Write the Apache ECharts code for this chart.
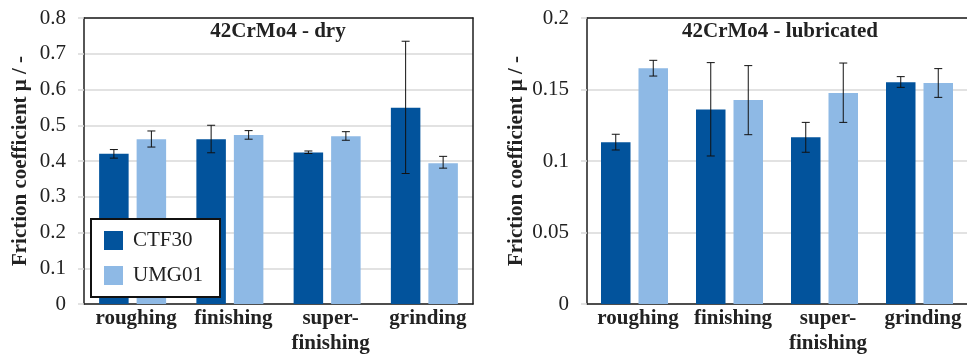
<!DOCTYPE html>
<html>
<head>
<meta charset="utf-8">
<script src="https://cdn.jsdelivr.net/npm/echarts@6/dist/echarts.min.js"></script>
<style>
html,body{margin:0;padding:0;background:#fff;}
#c{width:967px;height:356px;}
</style>
</head>
<body>
<div id="c"></div>
<script>
// ---- data ----
const categories = ['roughing', 'finishing', 'super-\nfinishing', 'grinding'];
const seriesNames = ['CTF30', 'UMG01'];

// dry
const dryCTF30 = [0.420, 0.461, 0.424, 0.549];
const dryCTF30Low = [0.408, 0.423, 0.421, 0.365];
const dryCTF30High = [0.432, 0.500, 0.428, 0.735];
const dryUMG01 = [0.461, 0.473, 0.469, 0.394];
const dryUMG01Low = [0.439, 0.461, 0.458, 0.380];
const dryUMG01High = [0.484, 0.485, 0.482, 0.413];

// lubricated
const lubCTF30 = [0.1131, 0.1361, 0.1166, 0.1550];
const lubCTF30Low = [0.1077, 0.1035, 0.1061, 0.1515];
const lubCTF30High = [0.1187, 0.1688, 0.1270, 0.1590];
const lubUMG01 = [0.1648, 0.1427, 0.1476, 0.1545];
const lubUMG01Low = [0.1594, 0.1184, 0.1270, 0.1445];
const lubUMG01High = [0.1704, 0.1667, 0.1685, 0.1646];

const yTicksDry = { min: 0, max: 0.8, interval: 0.1 };
const yTicksLub = { min: 0, max: 0.2, interval: 0.05 };

const titles = ['42CrMo4 - dry', '42CrMo4 - lubricated'];
const yName = 'Friction coefficient \u03bc / -';

// ---- styles ----
const COL_DARK = '#02539C';
const COL_LIGHT = '#8EB9E5';
const FONT = '"Liberation Serif", "Times New Roman", serif';
const BAR_W = 29.5;
const GAP_PX = 8;
const FRAME = '#1e1e1e';

const chart = echarts.init(document.getElementById('c'), null, { renderer: 'canvas' });

function errData(lo, hi) {
  return lo.map((v, i) => [i, v, hi[i]]);
}
function errSeries(name, lo, hi, gi, side) {
  return {
    type: 'custom', name: name, xAxisIndex: gi * 2, yAxisIndex: gi * 2, z: 5,
    data: errData(lo, hi),
    renderItem: function (params, api) {
      const i = api.value(0);
      const pLo = api.coord([i, api.value(1)]);
      const pHi = api.coord([i, api.value(2)]);
      const x = pLo[0] + side * (BAR_W + GAP_PX) / 2;
      const cap = 4;
      const st = { stroke: '#111', lineWidth: 1 };
      return {
        type: 'group',
        children: [
          { type: 'line', shape: { x1: x, y1: pLo[1], x2: x, y2: pHi[1] }, style: st },
          { type: 'line', shape: { x1: x - cap, y1: pLo[1], x2: x + cap, y2: pLo[1] }, style: st },
          { type: 'line', shape: { x1: x - cap, y1: pHi[1], x2: x + cap, y2: pHi[1] }, style: st }
        ]
      };
    }
  };
}
function barSeries(name, data, gi, color) {
  return {
    type: 'bar', name: name, xAxisIndex: gi * 2, yAxisIndex: gi * 2,
    data: data, barWidth: BAR_W, barGap: (GAP_PX / BAR_W * 100).toFixed(1) + '%',
    itemStyle: { color: color }, z: 2
  };
}
function xAxes(gi) {
  return [
    {
      type: 'category', gridIndex: gi, data: categories, position: 'bottom',
      axisLine: { show: true, lineStyle: { color: FRAME, width: 1.5 } },
      axisTick: { show: false },
      axisLabel: {
        fontFamily: FONT, fontSize: 21, fontWeight: 'bold', color: '#222',
        margin: 2, lineHeight: 25, interval: 0, padding: [0, 0, 0, 7]
      }
    },
    {
      type: 'category', gridIndex: gi, data: categories, position: 'top',
      axisLine: { show: true, onZero: false, lineStyle: { color: FRAME, width: 1.5 } },
      axisTick: { show: false }, axisLabel: { show: false }
    }
  ];
}
function yAxes(gi, t, gap, rightBorder) {
  return [
    {
      type: 'value', gridIndex: gi, min: t.min, max: t.max, interval: t.interval,
      name: yName, nameLocation: 'middle', nameGap: gap, nameRotate: 90,
      nameTextStyle: { fontFamily: FONT, fontSize: 21, fontWeight: 'bold', color: '#222' },
      axisLine: { show: true, lineStyle: { color: FRAME, width: 1.5 } },
      axisTick: { show: true, length: 6, lineStyle: { color: '#d9d9d9', width: 1.5 } },
      axisLabel: {
        fontFamily: FONT, fontSize: 21, color: '#222', margin: 18,
        formatter: v => String(+v.toFixed(2))
      },
      splitLine: { show: true, lineStyle: { color: '#d9d9d9', width: 1.5 } }
    },
    {
      type: 'value', gridIndex: gi, min: t.min, max: t.max, interval: t.interval, position: 'right',
      axisLine: { show: rightBorder, lineStyle: { color: FRAME, width: 1.5 } },
      axisTick: { show: false }, axisLabel: { show: false }, splitLine: { show: false }
    }
  ];
}

const option = {
  animation: false,
  backgroundColor: '#fff',
  grid: [
    { left: 84, top: 18, width: 389, height: 286 },
    { left: 587, top: 18, width: 383, height: 286 }
  ],
  title: [
    { text: titles[0], left: 278, top: 21, textAlign: 'center', padding: 0,
      textStyle: { fontFamily: FONT, fontSize: 21, fontWeight: 'bold', color: '#222' } },
    { text: titles[1], left: 780, top: 21, textAlign: 'center', padding: 0,
      textStyle: { fontFamily: FONT, fontSize: 21, fontWeight: 'bold', color: '#222' } }
  ],
  legend: {
    data: seriesNames, orient: 'vertical', left: 91, top: 219,
    itemWidth: 19, itemHeight: 19, itemGap: 14, icon: 'rect',
    padding: [11, 17, 11, 13],
    backgroundColor: '#fff', borderColor: '#111', borderWidth: 2,
    textStyle: { fontFamily: FONT, fontSize: 21, color: '#222', padding: [0, 0, 0, 5] },
    z: 10
  },
  xAxis: [...xAxes(0), ...xAxes(1)],
  yAxis: [...yAxes(0, yTicksDry, 53, true), ...yAxes(1, yTicksLub, 60, false)],
  series: [
    barSeries('CTF30', dryCTF30, 0, COL_DARK),
    barSeries('UMG01', dryUMG01, 0, COL_LIGHT),
    barSeries('CTF30', lubCTF30, 1, COL_DARK),
    barSeries('UMG01', lubUMG01, 1, COL_LIGHT),
    errSeries('errDryCTF', dryCTF30Low, dryCTF30High, 0, -1),
    errSeries('errDryUMG', dryUMG01Low, dryUMG01High, 0, 1),
    errSeries('errLubCTF', lubCTF30Low, lubCTF30High, 1, -1),
    errSeries('errLubUMG', lubUMG01Low, lubUMG01High, 1, 1)
  ]
};
chart.setOption(option);
</script>
</body>
</html>
